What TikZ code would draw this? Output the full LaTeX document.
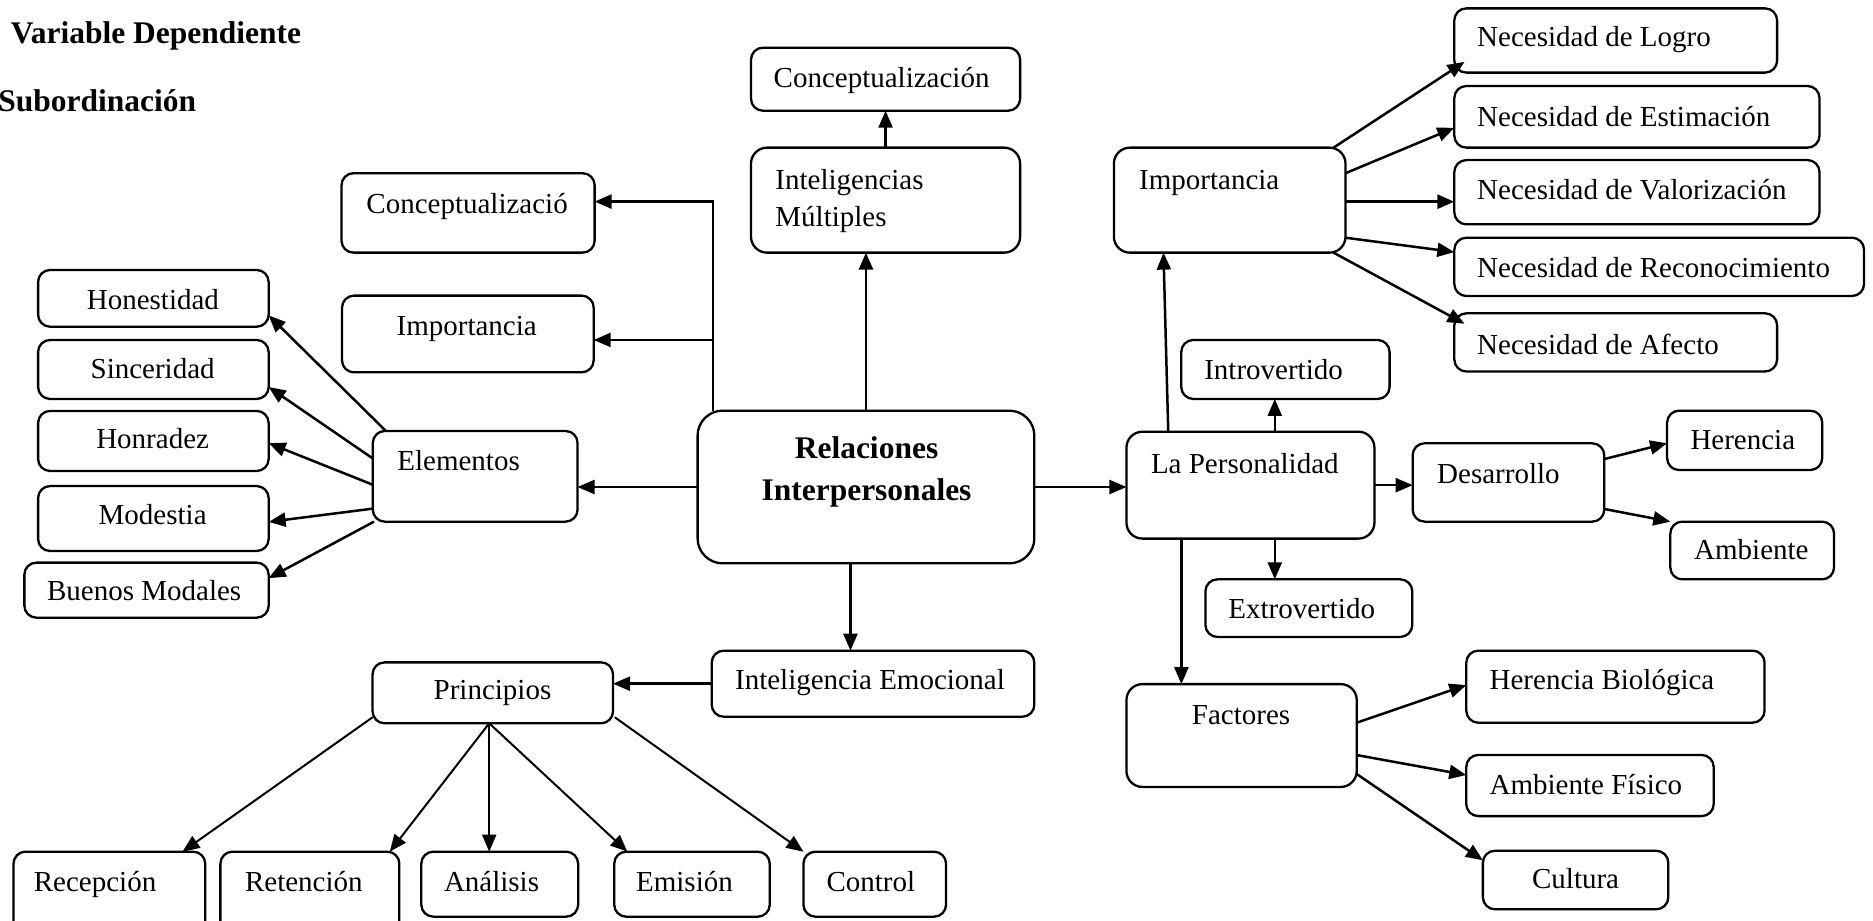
\documentclass[tikz,border=0pt]{standalone}
\usepackage{fontspec}
\setmainfont{Liberation Serif}
\usetikzlibrary{arrows.meta,calc}
\newcommand\bx[6][]{\node[box,#1,minimum width={1.1945pt*(#5-#3)},minimum height={1.1945pt*(#6-#4)}] (#2) at ({(#3+#5)/2},{(#4+#6)/2}) {};}
\tikzset{
  box/.style={draw, line width=2.3pt, rounded corners=12pt, inner sep=0pt, outer sep=0pt},
  big/.style={rounded corners=16pt},
  huge/.style={rounded corners=25pt},
  txt/.style={font=\fontsize{29}{34}\selectfont, inner sep=0pt},
  ttl/.style={font=\bfseries\fontsize{31.5}{36}\selectfont, inner sep=0pt},
  arr/.style={line width=2.5pt, -{Triangle[length=17pt,width=14pt]}},
  thinarr/.style={line width=2pt, -{Triangle[length=17pt,width=14pt]}}
}
\begin{document}
\begin{tikzpicture}[x=1.1945pt,y=-1.1945pt]
\useasboundingbox (0,0) rectangle (1568,771);
\clip (0,0) rectangle (1568,771);
% titles
\node[ttl,anchor=base west] (t1) at (9,36.3) {Variable Dependiente};
\node[ttl,anchor=base west] (t2) at (-1.5,93.5) {Subordinación};
% boxes
\bx{concT}{628.7}{39.9}{854}{92.7}
\bx[big]{intM}{628.7}{123.6}{854}{211.5}
\bx[big]{impR}{932.5}{123.6}{1126.4}{211.5}
\bx{concL}{285.9}{145}{497.8}{211.5}
\bx{impL}{286.3}{247.5}{497}{311.7}
\bx{hon}{31.9}{226}{224.9}{273.5}
\bx{sin}{31.9}{284.6}{224.9}{334}
\bx{honr}{31.9}{344}{224.9}{394.3}
\bx{mod}{31.9}{406.9}{224.9}{461.3}
\bx{bue}{20.4}{471}{224.9}{517.1}
\bx{elem}{312.1}{360.8}{483.5}{436.7}
\bx[huge]{rel}{584}{343.8}{865.9}{471.6}
\bx{IE}{595.8}{544.7}{865.9}{600}
\bx{princ}{311.9}{554.5}{513.2}{605.5}
\bx{recep}{11.3}{713}{171.8}{790}
\bx{ret}{184.5}{713}{334.3}{790}
\bx{anal}{352.7}{713}{484}{767.4}
\bx{emis}{514.2}{713}{644.4}{767.4}
\bx{ctrl}{672.6}{713}{792}{767.4}
\bx{logro}{1217.5}{7}{1487.7}{60.8}
\bx{estim}{1217.5}{72}{1523.2}{123.6}
\bx{valor}{1217.5}{134}{1523.2}{187.8}
\bx{recon}{1217.5}{199}{1560.5}{247.8}
\bx{afecto}{1217.5}{262.3}{1487.7}{311}
\bx{intro}{988.9}{284.6}{1163.3}{334}
\bx[big]{LP}{943}{361.4}{1150.6}{450.9}
\bx{des}{1182.6}{371.1}{1343}{436.7}
\bx{her}{1395.6}{343.8}{1525.5}{393.5}
\bx{amb}{1398.3}{436.7}{1535.4}{485}
\bx{extro}{1009.1}{485}{1182.3}{533.2}
\bx[big]{fac}{943}{572.7}{1135.8}{658.8}
\bx{hb}{1227.5}{544.7}{1477.2}{605}
\bx{af}{1227.5}{632}{1434.6}{683.2}
\bx{cul}{1241.4}{712.2}{1396.6}{761.2}
% texts
\node[txt,anchor=base] (concT-t) at (738,73) {Conceptualización};
\node[txt,anchor=base west,align=left,font=\fontsize{29}{36.8}\selectfont] (intM-t) at (649,189.8) {Inteligencias\\Múltiples};
\node[txt,anchor=base west] (impR-t) at (953.5,159) {Importancia};
\node[txt,anchor=base] (concL-t) at (391,178.5) {Conceptualizació};
\node[txt,anchor=base] (impL-t) at (390.7,280.5) {Importancia};
\node[txt,anchor=base] (hon-t) at (128,259.5) {Honestidad};
\node[txt,anchor=base] (sin-t) at (127.8,316.7) {Sinceridad};
\node[txt,anchor=base] (honr-t) at (127.8,375.3) {Honradez};
\node[txt,anchor=base] (mod-t) at (127.8,439.5) {Modestia};
\node[txt,anchor=base] (bue-t) at (120.7,502.3) {Buenos Modales};
\node[txt,anchor=base west] (elem-t) at (332.5,393.5) {Elementos};
\node[txt,anchor=base,align=center,font=\bfseries\fontsize{31.5}{42}\selectfont] (rel-t) at (725.4,418.6) {Relaciones\\Interpersonales};
\node[txt,anchor=base] (IE-t) at (728.3,577.6) {Inteligencia Emocional};
\node[txt,anchor=base] (princ-t) at (412.3,586) {Principios};
\node[txt,anchor=base west] (recep-t) at (28.2,746.5) {Recepción};
\node[txt,anchor=base west] (ret-t) at (205,746.5) {Retención};
\node[txt,anchor=base] (anal-t) at (411.5,746.5) {Análisis};
\node[txt,anchor=base] (emis-t) at (573,746.5) {Emisión};
\node[txt,anchor=base] (ctrl-t) at (729,746.5) {Control};
\node[txt,anchor=base west] (logro-t) at (1236.5,39) {Necesidad de Logro};
\node[txt,anchor=base west] (estim-t) at (1236.5,105.5) {Necesidad de Estimación};
\node[txt,anchor=base west] (valor-t) at (1236.5,166.9) {Necesidad de Valorización};
\node[txt,anchor=base west] (recon-t) at (1236.5,232.2) {Necesidad de Reconocimiento};
\node[txt,anchor=base west] (afecto-t) at (1236.5,296.4) {Necesidad de Afecto};
\node[txt,anchor=base west] (intro-t) at (1008,318) {Introvertido};
\node[txt,anchor=base west] (LP-t) at (963.4,396) {La Personalidad};
\node[txt,anchor=base west] (des-t) at (1203,404.6) {Desarrollo};
\node[txt,anchor=base] (her-t) at (1459,375.9) {Herencia};
\node[txt,anchor=base] (amb-t) at (1466.2,468.8) {Ambiente};
\node[txt,anchor=base west] (extro-t) at (1028.2,517.4) {Extrovertido};
\node[txt,anchor=base] (fac-t) at (1039,606.8) {Factores};
\node[txt,anchor=base west] (hb-t) at (1246.9,577.6) {Herencia Biológica};
\node[txt,anchor=base west] (af-t) at (1246.9,664.7) {Ambiente Físico};
\node[txt,anchor=base] (cul-t) at (1319,743.7) {Cultura};
% connectors: centre
\draw[arr] (rel.west) -- (rel.west -| elem.east);
\coordinate (trunk) at ($(rel.north west)+(13,0)$);
\draw[arr] (trunk) |- ($(concL.east)+(0,-9.5)$);
\draw[arr] ($(trunk |- impL.east)+(0,5)$) -- ($(impL.east)+(0,5)$);
\draw[arr] (rel.north) -- (rel.north |- intM.south);
\draw[arr] (intM.north) -- (concT.south);
\draw[arr] (rel.east) -- (rel.east -| LP.west);
\coordinate (rs) at ($(rel.south)+(-13,0)$);
\draw[arr] (rs) -- (rs |- IE.north);
\draw[arr] (IE.west) -- (IE.west -| princ.east);
% Principios
\coordinate (ps) at ($(princ.south)+(-3,0)$);
\draw[thinarr] ($(princ.south west)+(0,-5)$) -- ($(recep.north east)+(-19,0)$);
\draw[thinarr] (ps) -- ($(ret.north east)+(-8,0)$);
\draw[thinarr] (ps) -- (ps |- anal.north);
\draw[thinarr] (ps) -- ($(emis.north west)+(11,0)$);
\draw[thinarr] ($(princ.south east)+(1.5,-5)$) -- (ctrl.north west);
% Elementos
\draw[arr] ($(elem.north west)+(11,0)$) -- ($(hon.north east)+(0,38)$);
\draw[arr] ($(elem.north west)+(0,23)$) -- ($(sin.north east)+(0,39.4)$);
\draw[arr] ($(elem.north west)+(0,45)$) -- ($(honr.north east)+(0,27)$);
\draw[arr] ($(elem.north west)+(0,65)$) -- ($(mod.north east)+(0,30)$);
\draw[arr] ($(elem.south west)+(1,0)$) -- ($(bue.north east)+(0,13)$);
% La Personalidad
\draw[arr] ($(LP.north west)+(35,0)$) -- ($(impR.south west)+(41.5,0)$);
\draw[arr] ($(impR.north east)+(-10,0)$) -- ($(logro.south west)+(8.5,-9)$);
\draw[arr] ($(impR.north east)+(0,21.4)$) -- ($(estim.north west)+(0,35)$);
\draw[arr] ($(impR.east)+(0,1.3)$) -- ($(impR.east -| valor.west)+(0,1.3)$);
\draw[arr] ($(impR.north east)+(0,75.4)$) -- ($(recon.north west)+(0,12)$);
\draw[arr] ($(impR.south east)+(-10,0)$) -- ($(afecto.north west)+(8.5,8.7)$);
\coordinate (lpx) at ($(LP.north)+(20.4,0)$);
\draw[arr] (lpx) -- (lpx |- intro.south);
\coordinate (lpy) at ($(LP.south)+(20.4,0)$);
\draw[arr] (lpy) -- (lpy |- extro.north);
\draw[arr] (LP.east) -- (LP.east -| des.west);
\coordinate (lpf) at ($(LP.south west)+(46,0)$);
\draw[arr] (lpf) -- (lpf |- fac.north);
\draw[arr] ($(des.north east)+(0,13.2)$) -- ($(her.north west)+(0,27.3)$);
\draw[arr] ($(des.north east)+(0,55)$) -- (amb.north west);
\draw[arr] ($(fac.north east)+(0,32.3)$) -- ($(hb.north west)+(0,28.8)$);
\draw[arr] ($(fac.north east)+(0,59.4)$) -- ($(af.north west)+(0,16.8)$);
\draw[arr] ($(fac.north east)+(0,75.3)$) -- ($(cul.north west)+(0,8)$);
\end{tikzpicture}
\end{document}
